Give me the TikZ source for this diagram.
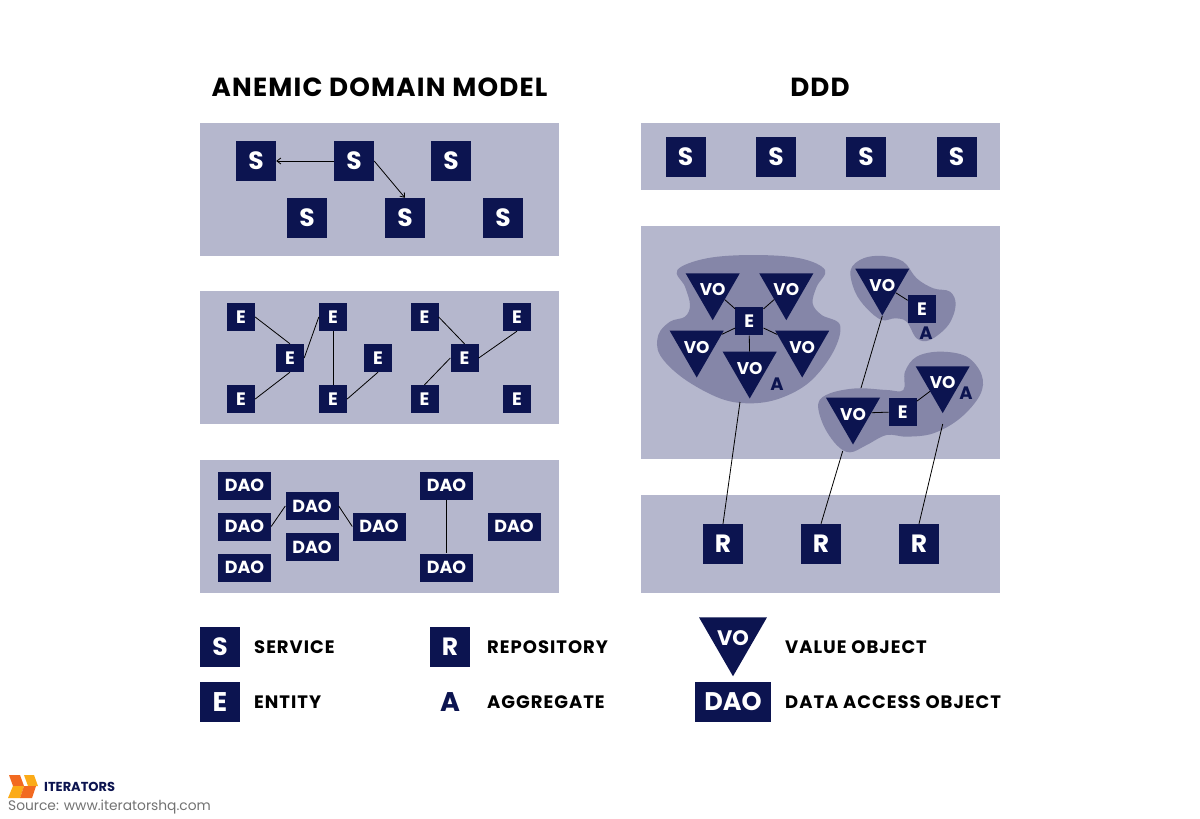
\documentclass[tikz,border=0pt]{standalone}
\usepackage{fontspec}
\setmainfont{Poppins}
\usetikzlibrary{shapes.geometric,arrows.meta}
\definecolor{navy}{HTML}{0C1450}
\definecolor{panel}{HTML}{B5B7CD}
\definecolor{blob}{HTML}{8586A8}
\definecolor{orD}{HTML}{F26A21}
\definecolor{orL}{HTML}{FBAB18}
\newcommand{\votext}{\smash{\raisebox{-0.4em}{\makebox[0pt]{VO}}}}
\tikzset{
 panelbox/.style={fill=panel,draw=none},
 boxbase/.style={fill=navy,draw=none,text=white,inner sep=0pt,font=\bfseries},
 sbox/.style={boxbase,minimum width=40pt,minimum height=40pt,font=\fontsize{25}{25}\selectfont\bfseries},
 ebox/.style={boxbase,minimum width=28pt,minimum height=28pt,font=\fontsize{18}{18}\selectfont\bfseries},
 daobox/.style={boxbase,minimum width=53pt,minimum height=28pt,font=\fontsize{17.5}{17}\selectfont\bfseries},
 vo/.style={regular polygon,regular polygon sides=3,shape border rotate=180,fill=navy,draw=none,text=white,inner sep=0pt,minimum size=62.4pt,font=\fontsize{17}{17}\selectfont\bfseries},
 anote/.style={text=navy,inner sep=0pt,font=\fontsize{18}{18}\selectfont\bfseries},
 legend/.style={anchor=west,inner sep=0pt,font=\fontsize{18}{18}\selectfont\bfseries\addfontfeatures{LetterSpace=5.5}},
 title/.style={inner sep=0pt,font=\fontsize{26.2}{26}\selectfont\bfseries\addfontfeatures{LetterSpace=4.5}},
 link/.style={draw=black,line width=0.8pt},
 arrowlink/.style={link,-{Straight Barb[length=4pt,width=6pt]}},
}
\begin{document}
\begin{tikzpicture}[x=1pt,y=-1pt]
\useasboundingbox (0,0) rectangle (1200,819);
\fill[white] (0,0) rectangle (1200,819);
% titles
\node[title] (t1) at (379.5,87) {ANEMIC DOMAIN MODEL};
\node[title] (t2) at (820,87) {DDD};
% panels
\fill[panel] (200,123) rectangle (559,256);
\fill[panel] (200,291) rectangle (559,424);
\fill[panel] (200,460) rectangle (559,593);
\fill[panel] (641,123) rectangle (1000,190);
\fill[panel] (641,226) rectangle (1000,459);
\fill[panel] (641,495) rectangle (1000,593);
% blobs
\begin{scope}[shift={(640,225)},x=0.33333pt,y=-0.33333pt]
\fill[blob] plot[smooth cycle,tension=0.6] coordinates {(112,135)(200,100)(340,90)(480,100)(555,135)(530,185)(518,235)(545,270)(600,300)(580,380)(510,470)(420,520)(330,535)(240,520)(130,460)(60,390)(55,330)(90,290)(135,275)(150,240)(135,185)};
\fill[blob] plot[smooth cycle,tension=0.6] coordinates {(632,135)(670,100)(730,93)(790,110)(830,160)(880,190)(930,200)(947,240)(925,300)(870,345)(830,340)(800,290)(765,280)(725,285)(680,250)(645,200)};
\fill[blob] plot[smooth cycle,tension=0.6] coordinates {(535,535)(570,505)(650,490)(740,495)(790,495)(795,440)(830,395)(900,380)(980,395)(1025,450)(1020,510)(960,580)(880,625)(800,635)(740,630)(680,660)(630,682)(590,660)(550,600)};
\end{scope}
% services left
\node[sbox] (s1) at (256,161) {S};
\node[sbox] (s2) at (354,161) {S};
\node[sbox] (s3) at (451,161) {S};
\node[sbox] (s4) at (307,218) {S};
\node[sbox] (s5) at (405,218) {S};
\node[sbox] (s6) at (503,218) {S};
\draw[arrowlink] (s2.west) -- (s1.east);
\draw[arrowlink] (s2.east) -- (s5.north);
% services right
\node[sbox] (rs1) at (685.5,157) {S};
\node[sbox] (rs2) at (776,157) {S};
\node[sbox] (rs3) at (866,157) {S};
\node[sbox] (rs4) at (956.5,157) {S};
% entities left
\node[ebox] (e1) at (241,317) {E};
\node[ebox] (e2) at (333,317) {E};
\node[ebox] (e3) at (424.5,317) {E};
\node[ebox] (e4) at (517,317) {E};
\node[ebox] (e5) at (290,358) {E};
\node[ebox] (e6) at (378,358) {E};
\node[ebox] (e7) at (464.5,358) {E};
\node[ebox] (e8) at (241,399) {E};
\node[ebox] (e9) at (333,399) {E};
\node[ebox] (e10) at (424.5,399) {E};
\node[ebox] (e11) at (517,399) {E};
\draw[link] (e1.east) -- (e5.north);
\draw[link] (e8.east) -- (e5.south);
\draw[link] (e5.east) -- (e2.west);
\draw[link] (e2.south) -- (e9.north);
\draw[link] (e9.east) -- (e6.south);
\draw[link] (e3.east) -- (e7.north);
\draw[link] (e10.north) -- (e7.west);
\draw[link] (e7.east) -- (e4.south);
% DAO
\node[daobox] (d1) at (244.5,485.5) {DAO};
\node[daobox] (d2) at (244.5,526.5) {DAO};
\node[daobox] (d3) at (244.5,567.5) {DAO};
\node[daobox] (d4) at (312,506) {DAO};
\node[daobox] (d5) at (312,547) {DAO};
\node[daobox] (d6) at (379,526.5) {DAO};
\node[daobox] (d7) at (446.5,485.5) {DAO};
\node[daobox] (d8) at (446.5,567.5) {DAO};
\node[daobox] (d9) at (514,526.5) {DAO};
\draw[link] (d2.east) -- (d4.west);
\draw[link] (d4.east) -- (d6.west);
\draw[link] (d7.south) -- (d8.north);
% aggregate 1
\node[vo] (v1) at (712.7,289) {\votext};
\node[vo] (v2) at (786.3,289) {\votext};
\node[vo] (v3) at (696.7,346.3) {\votext};
\node[vo] (v4) at (802.2,346.3) {\votext};
\node[vo] (v5) at (749.7,367.3) {\votext};
\node[ebox] (ea) at (749.3,321.3) {E};
\draw[link] (ea) -- (v1);
\draw[link] (ea) -- (v2);
\draw[link] (ea) -- (v3);
\draw[link] (ea) -- (v4);
\draw[link] (ea.south) -- (v5);
\node[anote] (a1) at (777,384) {A};
% aggregate 2
\node[vo] (v6) at (882.3,284.3) {\votext};
\node[ebox] (eb) at (922,309.3) {E};
\draw[link] (eb) -- (v6);
\node[anote] (a2) at (926,333.3) {A};
% aggregate 3
\node[vo] (v7) at (853,413.3) {\votext};
\node[ebox] (ec) at (902.7,411.7) {E};
\node[vo] (v8) at (942.7,381.9) {\votext};
\draw[link] (ec) -- (v7);
\draw[link] (ec) -- (v8);
\node[anote] (a3) at (966,392.7) {A};
% repositories
\node[sbox] (r1) at (723,544) {R};
\node[sbox] (r2) at (821,544) {R};
\node[sbox] (r3) at (919,544) {R};
\coordinate (c1) at (740,402);
\coordinate (c2) at (842.7,451);
\coordinate (c3) at (942.7,424);
\coordinate (c4) at (861,388);
\draw[link] (r1.north) -- (c1);
\draw[link] (r2.north) -- (c2);
\draw[link] (r3.north) -- (c3);
\draw[link] (v6.corner 1) -- (c4);
% legend
\node[sbox] (ls) at (220,647) {S};
\node[legend] (lst) at (254,647) {SERVICE};
\node[sbox,font=\fontsize{27}{27}\selectfont\bfseries] (le) at (220,702) {E};
\node[legend] (let) at (254,702) {ENTITY};
\node[sbox] (lr) at (450,647) {R};
\node[legend] (lrt) at (487,647) {REPOSITORY};
\node[anote,font=\fontsize{27}{27}\selectfont\bfseries] (la) at (450,702) {A};
\node[legend] (lat) at (487,702) {AGGREGATE};
\node[vo,minimum size=78.5pt,font=\fontsize{21}{21}\selectfont\bfseries] (lv) at (733,637) {\votext};
\node[legend] (lvt) at (785,647) {VALUE OBJECT};
\node[boxbase,minimum width=76pt,minimum height=40pt,font=\fontsize{25.5}{25}\selectfont\bfseries] (ld) at (733,702) {DAO};
\node[legend] (ldt) at (785,702) {DATA ACCESS OBJECT};
% logo
\fill[orD] (9,775) -- (20,775) -- (24,786) -- (13,786) -- cycle;
\fill[orL] (24,775) -- (34,775) -- (38,786) -- (28,786) -- cycle;
\fill[orL] (13,786) -- (24,786) -- (20,798) -- (8,798) -- cycle;
\fill[orD] (24,786) -- (36,786) -- (32,798) -- (20,798) -- cycle;
\node[anchor=west,inner sep=0pt,text=navy,font=\fontsize{13}{12}\selectfont\bfseries] (lg) at (44,787) {ITERATORS};
\node[anchor=west,inner sep=0pt,text=black!55,font=\fontsize{13.8}{14}\selectfont] (src) at (8,807) {Source: www.iteratorshq.com};
\end{tikzpicture}
\end{document}
